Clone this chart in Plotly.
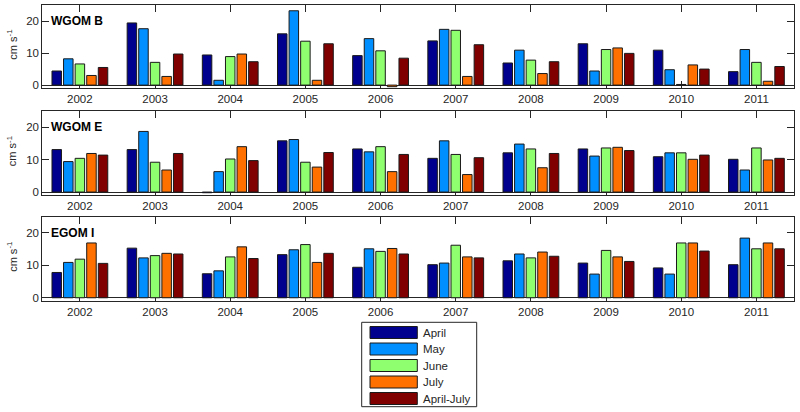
import plotly.graph_objects as go

# ---------------- data ----------------
years = [2002, 2003, 2004, 2005, 2006, 2007, 2008, 2009, 2010, 2011]
series_names = ["April", "May", "June", "July", "April-July"]
colors = ["#00008F", "#008FFF", "#8FFF70", "#FF7000", "#800000"]
panel_names = ["WGOM B", "WGOM E", "EGOM I"]

wgom_b_april = [4.4, 19.4, 9.4, 16.0, 9.2, 13.8, 6.9, 12.9, 10.9, 4.2]
wgom_b_may = [8.2, 17.6, 1.5, 23.2, 14.5, 17.4, 10.9, 4.4, 4.8, 11.1]
wgom_b_june = [6.6, 7.1, 8.9, 13.7, 10.7, 17.1, 7.8, 11.1, 0.2, 7.1]
wgom_b_july = [3.0, 2.7, 9.7, 1.5, -0.5, 2.7, 3.6, 11.6, 6.3, 1.2]
wgom_b_aprjul = [5.5, 9.7, 7.3, 12.9, 8.4, 12.6, 7.3, 9.9, 5.0, 5.8]

wgom_e_april = [13.1, 13.1, -0.2, 15.8, 13.3, 10.4, 12.1, 13.3, 10.9, 10.1]
wgom_e_may = [9.4, 18.7, 6.3, 16.2, 12.4, 15.8, 14.8, 11.1, 12.1, 6.8]
wgom_e_june = [10.4, 9.2, 10.2, 9.2, 14.0, 11.6, 13.3, 13.6, 12.1, 13.6]
wgom_e_july = [11.9, 6.8, 14.0, 7.7, 6.3, 5.4, 7.5, 13.8, 10.1, 9.9]
wgom_e_aprjul = [11.4, 11.9, 9.7, 12.2, 11.6, 10.6, 11.9, 12.8, 11.4, 10.4]

egom_i_april = [7.8, 15.3, 7.4, 13.3, 9.4, 10.2, 11.4, 10.7, 9.2, 10.2]
egom_i_may = [10.9, 12.3, 8.3, 14.8, 15.1, 10.7, 13.5, 7.3, 7.3, 18.4]
egom_i_june = [11.9, 13.0, 12.6, 16.4, 14.3, 16.2, 12.3, 14.6, 16.9, 15.1]
egom_i_july = [16.9, 13.7, 15.7, 10.9, 15.2, 12.6, 14.1, 12.6, 16.9, 16.9]
egom_i_aprjul = [10.6, 13.5, 12.1, 13.7, 13.5, 12.3, 12.8, 11.2, 14.4, 15.1]

y_ticks = [0, 10, 20]
y_range = [-1, 25]

panels = [
    [wgom_b_april, wgom_b_may, wgom_b_june, wgom_b_july, wgom_b_aprjul],
    [wgom_e_april, wgom_e_may, wgom_e_june, wgom_e_july, wgom_e_aprjul],
    [egom_i_april, egom_i_may, egom_i_june, egom_i_july, egom_i_aprjul],
]

# ---------------- layout helpers ----------------
W, H = 800, 412
def px(x):
    return x / W
def py(y):
    return 1 - y / H

FONT = "Liberation Sans, Arial, sans-serif"
INK = "#262626"

# panel pixel boxes (top, bottom)
panel_boxes = [(5, 88.3), (111, 195.3), (216.7, 301)]
x_left, x_right = 42.3, 794

fig = go.Figure()

layout = dict(
    width=W, height=H,
    margin=dict(l=0, r=0, t=0, b=0),
    paper_bgcolor="white", plot_bgcolor="white",
    barmode="group", bargap=0.23, bargroupgap=0.18,
    showlegend=False,
    font=dict(family=FONT, size=11.5, color=INK),
)

annotations = []
shapes = []

for i, (vals, pname) in enumerate(zip(panels, panel_names)):
    n = i + 1
    xa = "x" if n == 1 else f"x{n}"
    ya = "y" if n == 1 else f"y{n}"
    for s, (name, col) in enumerate(zip(series_names, colors)):
        fig.add_trace(go.Bar(
            x=years, y=vals[s], name=name,
            marker=dict(color=col, line=dict(color="#1a1a1a", width=1)),
            xaxis=xa, yaxis=ya, offsetgroup=str(s),
            showlegend=(i == 0), legendgroup=name,
        ))
    top, bot = panel_boxes[i]
    layout["xaxis" if n == 1 else f"xaxis{n}"] = dict(
        domain=[px(x_left), px(x_right)], anchor=ya,
        range=[2001.5, 2011.5], tickmode="array", tickvals=years,
        ticktext=[str(y) for y in years],
        ticks="inside", ticklen=7, tickcolor=INK, tickwidth=1,
        showline=True, linecolor=INK, linewidth=1, mirror="ticks",
        showgrid=False, zeroline=False, layer="below traces",
        tickfont=dict(family=FONT, size=11.5, color=INK),
        automargin=False,
    )
    layout["yaxis" if n == 1 else f"yaxis{n}"] = dict(
        domain=[py(bot), py(top)], anchor=xa,
        range=y_range, tickmode="array", tickvals=y_ticks,
        ticks="inside", ticklen=7, tickcolor=INK, tickwidth=1,
        showline=True, linecolor=INK, linewidth=1, mirror="ticks",
        showgrid=False, zeroline=True, zerolinecolor=INK, zerolinewidth=1,
        layer="below traces",
        tickfont=dict(family=FONT, size=11.5, color=INK),
        automargin=False,
    )
    annotations.append(dict(
        xref="paper", yref=ya, x=px(49), y=20, text=f"<b>{pname}</b>",
        showarrow=False, xanchor="left", yanchor="middle",
        font=dict(family=FONT, size=12, color="black"),
    ))
    annotations.append(dict(
        xref="paper", yref="paper", x=px(12), y=py((top + bot) / 2 - 2),
        text="cm s<sup>-1</sup>", textangle=-90, showarrow=False,
        xanchor="center", yanchor="middle",
        font=dict(family=FONT, size=11, color=INK),
    ))

# ---------------- manual legend ----------------
shapes.append(dict(type="rect", xref="paper", yref="paper",
                   x0=px(361.7), x1=px(476.7), y0=py(406.7), y1=py(322.3),
                   line=dict(color=INK, width=1), fillcolor="white", layer="above"))
for k, (name, col) in enumerate(zip(series_names, colors)):
    cy = 332.5 + k * 16.5
    shapes.append(dict(type="rect", xref="paper", yref="paper",
                       x0=px(370), x1=px(417.3), y0=py(cy + 6), y1=py(cy - 6),
                       line=dict(color="#1a1a1a", width=1), fillcolor=col, layer="above"))
    annotations.append(dict(
        xref="paper", yref="paper", x=px(421), y=py(cy), text=name,
        showarrow=False, xanchor="left", yanchor="middle",
        font=dict(family=FONT, size=11.5, color=INK),
    ))

layout["annotations"] = annotations
layout["shapes"] = shapes
fig.update_layout(**layout)

fig.write_html("out.html", config={"displayModeBar": False},
               post_script="document.body.style.margin='0';")
